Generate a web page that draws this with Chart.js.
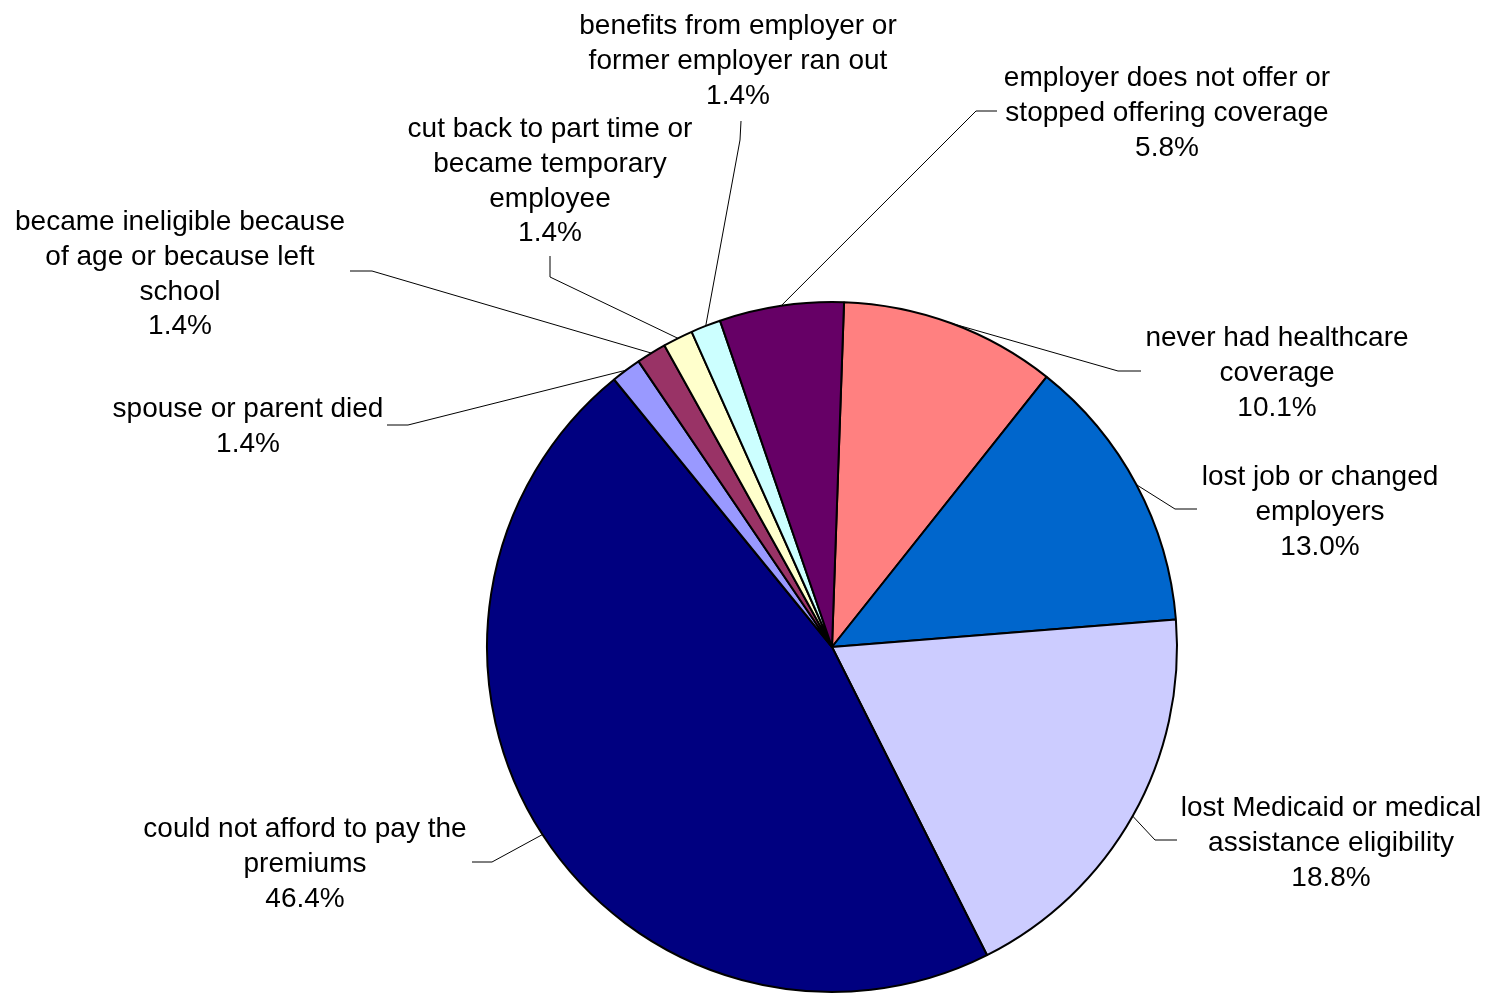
<!DOCTYPE html>
<html>
<head>
<meta charset="utf-8">
<script src="https://cdn.jsdelivr.net/npm/chart.js@4.4.0/dist/chart.umd.min.js"></script>
<style>
  html, body { margin: 0; padding: 0; background: #fff; }
  #wrap { width: 1487px; height: 994px; position: relative; }
</style>
</head>
<body>
<div id="wrap"><canvas id="chart"></canvas></div>
<script>
// reasons, in clockwise order from the top
const categories = [
  ['never had healthcare', 'coverage'],
  ['lost job or changed', 'employers'],
  ['lost Medicaid or medical', 'assistance eligibility'],
  ['could not afford to pay the', 'premiums'],
  ['spouse or parent died'],
  ['became ineligible because', 'of age or because left', 'school'],
  ['cut back to part time or', 'became temporary', 'employee'],
  ['benefits from employer or', 'former employer ran out'],
  ['employer does not offer or', 'stopped offering coverage']
]
const percents = [10.1, 13.0, 18.8, 46.4, 1.4, 1.4, 1.4, 1.4, 5.8]
const sliceColors = ['#FF8080', '#0066CC', '#CCCCFF', '#000080', '#9999FF', '#993366', '#FFFFCC', '#CCFFFF', '#660066']

// label placement: centre x, first line y, elbow and end of leader line
const labelLayout = [
  { x: 1277, y: 338, elbow: [1118, 371], end: [1141, 371] },
  { x: 1320, y: 477, elbow: [1175, 509], end: [1197, 509] },
  { x: 1331, y: 808, elbow: [1155, 840], end: [1177, 840] },
  { x: 305, y: 829, elbow: [492, 862], end: [472, 862] },
  { x: 248, y: 409, elbow: [408, 425], end: [387, 425] },
  { x: 180, y: 222, elbow: [372, 271], end: [350, 271] },
  { x: 550, y: 129, elbow: [550, 277], end: [550, 256] },
  { x: 738, y: 26, elbow: [740, 140], end: [741, 121] },
  { x: 1167, y: 78, elbow: [976, 111], end: [997, 111] }
]

const LINE_H = 34.9

const outsideLabels = {
  id: 'outsideLabels',
  afterDraw (chart) {
    const ctx = chart.ctx
    const meta = chart.getDatasetMeta(0)
    ctx.save()
    ctx.strokeStyle = '#000'
    ctx.lineWidth = 1
    meta.data.forEach((arc, i) => {
      const p = arc.getProps(['x', 'y', 'startAngle', 'endAngle', 'outerRadius'], true)
      const mid = (p.startAngle + p.endAngle) / 2
      const ax = p.x + Math.cos(mid) * p.outerRadius
      const ay = p.y + Math.sin(mid) * p.outerRadius
      const lay = labelLayout[i]
      ctx.beginPath()
      ctx.moveTo(ax, ay)
      ctx.lineTo(lay.elbow[0], lay.elbow[1])
      ctx.lineTo(lay.end[0], lay.end[1])
      ctx.stroke()
    })
    ctx.fillStyle = '#000'
    ctx.font = '28px "Liberation Sans", Arial, sans-serif'
    ctx.textAlign = 'center'
    ctx.textBaseline = 'middle'
    categories.forEach((lines, i) => {
      const lay = labelLayout[i]
      const all = lines.concat([percents[i].toFixed(1) + '%'])
      all.forEach((t, k) => {
        ctx.fillText(t, lay.x, lay.y + k * LINE_H)
      })
    })
    ctx.restore()
  }
}

new Chart(document.getElementById('chart'), {
  type: 'pie',
  data: {
    labels: categories.map(l => l.join(' ')),
    datasets: [{
      data: percents,
      backgroundColor: sliceColors,
      borderColor: '#000',
      borderWidth: 2
    }]
  },
  options: {
    responsive: true,
    maintainAspectRatio: false,
    animation: false,
    rotation: 2,
    radius: 345,
    layout: { padding: { left: 177, right: 0, top: 300, bottom: 0 } },
    plugins: {
      legend: { display: false },
      tooltip: { enabled: false }
    }
  },
  plugins: [outsideLabels]
})
</script>
</body>
</html>
